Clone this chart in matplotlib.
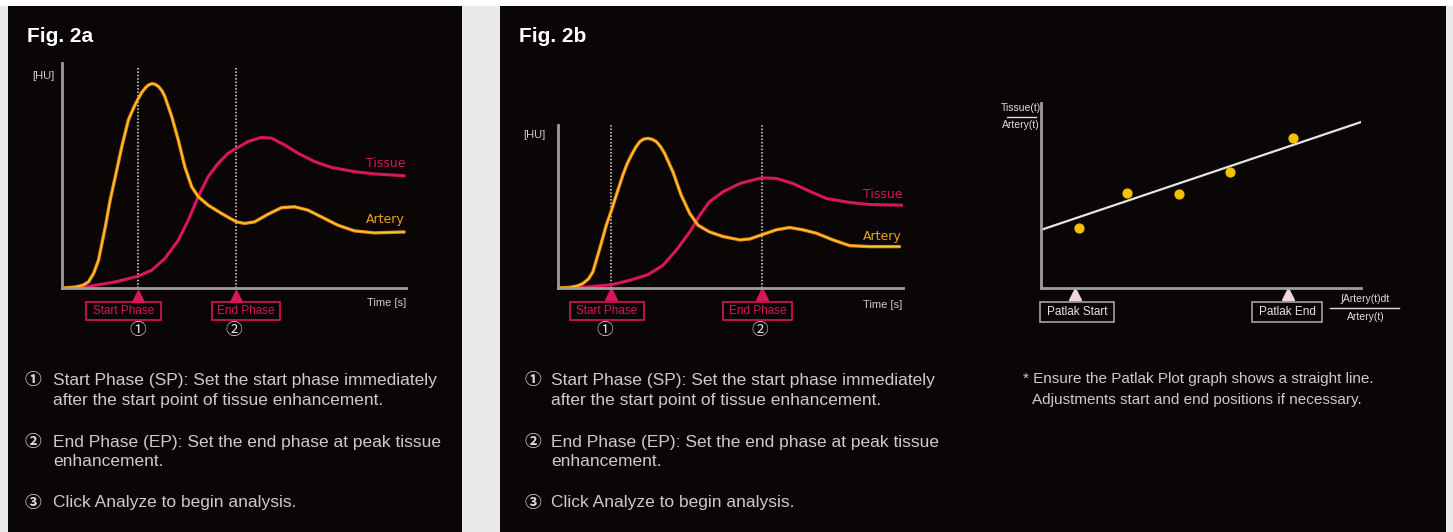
import matplotlib.pyplot as plt
from matplotlib.patches import Rectangle

W, H = 1453, 532

# Fig. 2a curves (time and HU normalised to the axis box, 0-100)
a_art_t = [0, 3.9, 6.0, 7.7, 9.2, 10.6, 12.6, 14.0, 15.5, 17.4, 19.3, 20.8, 22.0, 23.1, 24.2,
           25.1, 26.1, 27.0, 28.0, 29.0, 29.9, 31.9, 33.8, 35.7, 37.7, 39.6, 42.5, 46.4,
           50.7, 53.1, 56.0, 59.9, 63.8, 67.6, 71.5, 75.4, 80.2, 85.0, 90.8, 99.5]
a_art_v = [0, 0.4, 1.2, 2.7, 6.5, 12.3, 27.2, 39.1, 49.5, 62.9, 74.7, 80.0, 83.7, 86.7, 88.9,
           90.2, 90.8, 90.6, 89.6, 87.8, 85.1, 76.2, 65.8, 53.9, 45.0, 40.6, 36.8, 33.1,
           29.4, 28.7, 29.4, 32.8, 35.7, 36.1, 34.6, 31.6, 27.9, 25.4, 24.5, 24.9]
a_tis_t = [0, 7.7, 15.5, 22.0, 26.1, 29.9, 33.8, 36.7, 39.6, 42.5, 45.4, 48.3, 50.7, 54.1,
           57.9, 60.9, 64.7, 68.6, 73.4, 78.3, 85.0, 90.8, 99.5]
a_tis_v = [0, 0.7, 2.7, 5.2, 7.9, 13.1, 21.2, 30.1, 40.6, 49.5, 55.4, 59.9, 62.1, 65.1,
           66.9, 66.6, 63.6, 59.9, 56.2, 53.6, 51.7, 50.7, 49.9]
a_phases = [22.0, 50.7]

# Fig. 2b left curves
b_art_t = [0, 3.4, 5.5, 7.2, 8.8, 10.1, 12.1, 14.0, 15.5, 16.9, 18.8, 20.0, 21.3, 22.5, 23.7,
           24.9, 26.1, 27.3, 28.5, 29.7, 30.9, 33.3, 35.7, 38.2, 40.6, 43.9, 47.8, 52.7,
           55.6, 59.0, 63.3, 67.1, 71.0, 74.9, 79.7, 84.5, 90.3, 99.0]
b_art_v = [0, 0.4, 1.2, 2.7, 5.5, 9.8, 24.2, 38.5, 47.7, 57.0, 69.3, 76.0, 81.6, 86.2, 89.8,
           91.4, 91.8, 91.2, 89.8, 86.8, 82.6, 71.3, 57.0, 45.7, 38.5, 34.4, 31.6, 29.5,
           30.1, 32.6, 35.7, 37.1, 35.7, 33.6, 29.5, 26.0, 25.4, 25.4]
b_tis_t = [0, 7.2, 15.5, 20.8, 26.1, 30.4, 34.3, 38.2, 41.1, 43.9, 47.8, 52.7, 59.0, 63.3,
           68.1, 72.9, 77.8, 84.5, 90.3, 100]
b_tis_v = [0, 0.4, 2.0, 4.7, 8.2, 13.9, 23.2, 34.4, 44.7, 52.9, 59.0, 64.1, 67.6, 67.2,
           64.1, 59.4, 54.9, 52.5, 51.2, 50.8]
b_phases = [15.5, 59.0]

# Patlak plot
pat_x = [11.8, 27.0, 43.2, 59.0, 78.9]
pat_y = [32.3, 51.6, 50.9, 62.5, 81.0]
fit_x = [0, 100]
fit_y = [31.4, 89.7]
pat_marks = [10.7, 77.1]

MAG = '#d8155f'
ORA = '#eea020'
GREY = '#cfcaca'
BLACK = '#0b0606'

fig = plt.figure(figsize=(W / 100, H / 100), dpi=100, facecolor='#e9e9e9')
bg = fig.add_axes([0, 0, 1, 1])
bg.set_xlim(0, W)
bg.set_ylim(H, 0)
bg.axis('off')
bg.add_patch(Rectangle((0, 0), W, 6, color='white', lw=0))
bg.add_patch(Rectangle((8, 6), 454, 530, color=BLACK, lw=0))
bg.add_patch(Rectangle((500, 6), 946, 530, color=BLACK, lw=0))


def px_rect(x0, y0, x1, y1):
    return [x0 / W, 1 - y1 / H, (x1 - x0) / W, (y1 - y0) / H]


def make_axes(rect):
    ax = fig.add_axes(rect)
    ax.set_facecolor('none')
    ax.set_xlim(0, 100)
    ax.set_ylim(0, 100)
    ax.set_xticks([])
    ax.set_yticks([])
    for s in ['top', 'right']:
        ax.spines[s].set_visible(False)
    for s in ['left', 'bottom']:
        ax.spines[s].set_color('#a09d9d')
        ax.spines[s].set_linewidth(2)
    return ax


def curve_chart(ax, art_t, art_v, tis_t, tis_v, phases, dot_top, tis_lab, art_lab):
    for p in phases:
        ax.plot([p, p], [0, dot_top], color='#f0d8dc', ls=(0, (1, 1.2)), lw=1.1)
    ax.plot(tis_t, tis_v, color=MAG, lw=2.2, solid_capstyle='round', solid_joinstyle='round')
    ax.plot(art_t, art_v, color='#e88a10', lw=2.4, solid_capstyle='round',
            solid_joinstyle='round')
    ax.plot(art_t, art_v, color='#ffc838', lw=0.9, solid_joinstyle='round')
    ax.plot(phases, [-0.035] * 2, ls='none', marker='^', ms=8, color=MAG,
            transform=ax.get_xaxis_transform(), clip_on=False)
    ax.text(100, tis_lab, 'Tissue', color=MAG, fontsize=9, ha='right', va='center')
    ax.text(99.5, art_lab, 'Artery', color=ORA, fontsize=9, ha='right', va='center')


ax_a = make_axes(px_rect(62, 63, 406, 288))
curve_chart(ax_a, a_art_t, a_art_v, a_tis_t, a_tis_v, a_phases, 98, 55.4, 30.5)

ax_b = make_axes(px_rect(558, 125, 903, 288))
curve_chart(ax_b, b_art_t, b_art_v, b_tis_t, b_tis_v, b_phases, 100, 57.6, 31.4)

ax_p = make_axes(px_rect(1041, 103, 1361, 288))
ax_p.plot(fit_x, fit_y, color='#e8e4e4', lw=1.6)
ax_p.scatter(pat_x, pat_y, s=40, color='#f5c000', zorder=3)
ax_p.plot(pat_marks, [-0.035] * 2, ls='none', marker='^', ms=8, color='#f2d6de',
          transform=ax_p.get_xaxis_transform(), clip_on=False)

# titles
for x, t in [(27, 'Fig. 2a'), (519, 'Fig. 2b')]:
    bg.text(x, 36, t, color='white', fontsize=15, fontweight='bold', va='center',
            family=['Liberation Sans Narrow', 'Liberation Sans'])

# axis labels of the curve charts
lab = dict(color=GREY, fontsize=8, va='center', family='Liberation Sans')
bg.text(32, 76, '[HU]', **lab)
bg.text(406, 303, 'Time [s]', ha='right', **lab)
bg.text(523, 135, '[HU]', **lab)
bg.text(902, 305, 'Time [s]', ha='right', **lab)

# phase boxes
boxes = [(86, 161, 'Start Phase'), (212, 280, 'End Phase'),
         (570, 644, 'Start Phase'), (723, 792, 'End Phase')]
for x0, x1, t in boxes:
    bg.add_patch(Rectangle((x0, 302), x1 - x0, 18, fill=False, ec=MAG, lw=1.2))
    bg.text((x0 + x1) / 2, 311.5, t, color=MAG, fontsize=8.5, ha='center', va='center',
            family='Liberation Sans')

circ = dict(color='#e0dcdc', fontsize=12, ha='center', va='center',
            family=['Noto Sans CJK JP', 'DejaVu Sans'])
for x, t in [(138, '①'), (234, '②'), (605, '①'), (760, '②')]:
    bg.text(x, 331, t, **circ)

# patlak boxes and labels
for x0, x1, t in [(1040, 1114, 'Patlak Start'), (1252, 1322, 'Patlak End')]:
    bg.add_patch(Rectangle((x0, 302), x1 - x0, 20, fill=False, ec='#a89e9e', lw=1.2))
    bg.text((x0 + x1) / 2, 312, t, color='#e6e2e2', fontsize=8.5, ha='center', va='center',
            family='Liberation Sans')

small = dict(color='#e0dcdc', fontsize=7.5, ha='center', va='center', family='Liberation Sans')
bg.text(1365, 299, '\u222bArtery(t)dt', **small)
bg.plot([1330, 1399], [308, 308], color='#e0dcdc', lw=1)
bg.text(1366, 317, 'Artery(t)', **small)
bg.text(1021, 108, 'Tissue(t)', **small)
bg.plot([1007, 1036], [116.5, 116.5], color='#e0dcdc', lw=1)
bg.text(1021, 125, 'Artery(t)', **small)

body = dict(color=GREY, fontsize=12.5, va='center', family='Liberation Sans')
foot = dict(color=GREY, fontsize=11, va='center', family='Liberation Sans')
bg.text(1023, 379, '* Ensure the Patlak Plot graph shows a straight line.', **foot)
bg.text(1032, 400, 'Adjustments start and end positions if necessary.', **foot)

lines = [(380, 'Start Phase (SP): Set the start phase immediately'),
         (400, 'after the start point of tissue enhancement.'),
         (442, 'End Phase (EP): Set the end phase at peak tissue'),
         (462, 'enhancement.'),
         (503, 'Click Analyze to begin analysis.')]
icons = [(380, '①'), (442, '②'), (503, '③')]
for x_icon, x_txt in [(33, 53), (533, 551)]:
    for y, t in lines:
        bg.text(x_txt, y, t, **body)
    for y, t in icons:
        bg.text(x_icon, y, t, color='#e0dcdc', fontsize=12, ha='center', va='center',
                fontweight='bold', family=['Noto Sans CJK JP', 'DejaVu Sans'])

fig.savefig('out.png', dpi=100, facecolor=fig.get_facecolor())
